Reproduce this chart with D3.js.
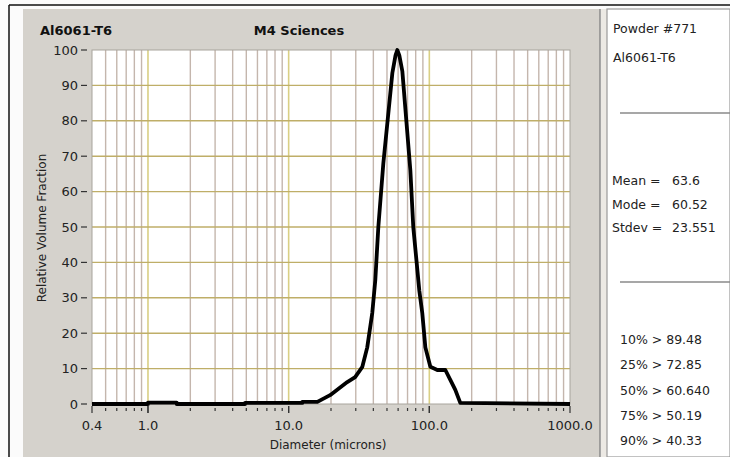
<!DOCTYPE html>
<html>
<head>
<meta charset="utf-8">
<script src="https://cdn.jsdelivr.net/npm/d3@7"></script>
<style>
  body { margin: 0; background: #fff; }
  text { font-family: "DejaVu Sans", sans-serif; }
</style>
</head>
<body>
<script>
// particle size distribution
const diameters = [0.4, 1.0, 1.0, 1.6, 1.6, 4.9, 4.9, 12.5, 12.5, 16.0, 19.7, 26.1, 29.7, 33.4, 36.2, 39.3, 41.3, 43.4, 47.1, 54.6, 57.5, 59.2, 61.2, 64.3, 73.3, 76.9, 84.9, 89.1, 93.7, 101.7, 114, 130, 141, 153, 166, 1000];
const volumeFraction = [0, 0, 0.4, 0.4, 0, 0, 0.3, 0.3, 0.6, 0.6, 2.5, 6.2, 7.6, 10.5, 16, 25.7, 35, 50, 68, 93.5, 98.5, 100, 98.5, 94, 66, 50, 32, 25.7, 16, 10.5, 9.6, 9.6, 6.8, 4, 0.3, 0];

const xMajor = [0.4, 1, 10, 100, 1000];
const xMajorLabels = ["0.4", "1.0", "10.0", "100.0", "1000.0"];
const yTicks = [0, 10, 20, 30, 40, 50, 60, 70, 80, 90, 100];

const headerLines = ["Powder #771", "Al6061-T6"];
const statNames = ["Mean =", "Mode =", "Stdev ="];
const statValues = ["63.6", "60.52", "23.551"];
const percentiles = ["10% > 89.48", "25% > 72.85", "50% > 60.640", "75% > 50.19", "90% > 40.33"];

const W = 730, H = 457;
const plot = { left: 92, top: 50, right: 570, bottom: 404 };

const svg = d3.select("body").append("svg")
    .attr("width", W)
    .attr("height", H);

// frame and panels
svg.append("rect").attr("x", 0).attr("y", 0).attr("width", W).attr("height", H).attr("fill", "#fbfbfb");
svg.append("line").attr("x1", 9).attr("y1", 5).attr("x2", W).attr("y2", 5).attr("stroke", "#111").attr("stroke-width", 1.5);
svg.append("line").attr("x1", 9).attr("y1", 5).attr("x2", 9).attr("y2", H).attr("stroke", "#111").attr("stroke-width", 1.5);
svg.append("rect").attr("x", 23).attr("y", 9).attr("width", 577).attr("height", H - 9).attr("fill", "#d5d2cc");
svg.append("line").attr("x1", 600).attr("y1", 9).attr("x2", 600).attr("y2", H).attr("stroke", "#8a8a8a").attr("stroke-width", 1.5);
svg.append("rect").attr("x", 601).attr("y", 9).attr("width", 6).attr("height", H - 9).attr("fill", "#ece9e4");
svg.append("rect").attr("x", 607).attr("y", 9).attr("width", W - 607).attr("height", H - 9)
    .attr("fill", "#fff").attr("stroke", "#9a9a9a").attr("stroke-width", 1.2);

// scales
const x = d3.scaleLog().domain([0.4, 1000]).range([plot.left, plot.right]);
const y = d3.scaleLinear().domain([0, 100]).range([plot.bottom, plot.top]);

svg.append("rect")
    .attr("x", plot.left).attr("y", plot.top)
    .attr("width", plot.right - plot.left).attr("height", plot.bottom - plot.top)
    .attr("fill", "#fff");

// vertical grid: every 1..9 multiple of each decade
const minorX = [];
[0.1, 1, 10, 100].forEach(dec => {
  for (let k = 1; k <= 9; k++) {
    const v = +(k * dec).toPrecision(3);
    if (v > 0.4 && v < 1000) minorX.push(v);
  }
});
const isDecade = v => [1, 10, 100].includes(v);

svg.append("g").selectAll("line")
    .data(minorX)
    .join("line")
    .attr("x1", d => x(d)).attr("x2", d => x(d))
    .attr("y1", plot.top).attr("y2", plot.bottom)
    .attr("stroke", d => isDecade(d) ? "#d9cf84" : "#c4b6ad")
    .attr("stroke-width", d => isDecade(d) ? 1.6 : 1.4);

// horizontal grid
svg.append("g").selectAll("line")
    .data(yTicks.filter(t => t > 0 && t < 100))
    .join("line")
    .attr("x1", plot.left).attr("x2", plot.right)
    .attr("y1", d => y(d)).attr("y2", d => y(d))
    .attr("stroke", "#bfae68")
    .attr("stroke-width", 1.4);

// plot border
svg.append("rect")
    .attr("x", plot.left).attr("y", plot.top)
    .attr("width", plot.right - plot.left).attr("height", plot.bottom - plot.top)
    .attr("fill", "none").attr("stroke", "#a8a49c").attr("stroke-width", 1);

// y axis ticks and labels
const yAxis = svg.append("g");
yAxis.selectAll("line")
    .data(yTicks)
    .join("line")
    .attr("x1", 81).attr("x2", 87)
    .attr("y1", d => y(d)).attr("y2", d => y(d))
    .attr("stroke", "#333").attr("stroke-width", 1.2);
yAxis.selectAll("text")
    .data(yTicks)
    .join("text")
    .attr("x", 78).attr("y", d => y(d))
    .attr("dy", "0.35em")
    .attr("text-anchor", "end")
    .attr("font-size", 13)
    .attr("fill", "#222")
    .text(d => d);

// x axis ticks and labels
const xAxis = svg.append("g");
xAxis.selectAll("line")
    .data(minorX.concat(xMajor))
    .join("line")
    .attr("x1", d => x(d)).attr("x2", d => x(d))
    .attr("y1", d => (xMajor.includes(d)) ? 406 : 408)
    .attr("y2", d => (xMajor.includes(d)) ? 413 : 411)
    .attr("stroke", "#333").attr("stroke-width", 1.2);
xAxis.selectAll("text")
    .data(xMajor)
    .join("text")
    .attr("x", d => x(d)).attr("y", 430)
    .attr("text-anchor", "middle")
    .attr("font-size", 13)
    .attr("fill", "#222")
    .text((d, i) => xMajorLabels[i]);

// titles
svg.append("text").attr("x", 40).attr("y", 35)
    .attr("font-size", 13).attr("font-weight", "bold").attr("fill", "#111")
    .text("Al6061-T6");
svg.append("text").attr("x", 299).attr("y", 35)
    .attr("text-anchor", "middle")
    .attr("font-size", 13).attr("font-weight", "bold").attr("fill", "#111")
    .text("M4 Sciences");
svg.append("text")
    .attr("transform", "translate(46,228) rotate(-90)")
    .attr("text-anchor", "middle")
    .attr("font-size", 12).attr("fill", "#222")
    .text("Relative Volume Fraction");
svg.append("text").attr("x", 328).attr("y", 449)
    .attr("text-anchor", "middle")
    .attr("font-size", 12).attr("fill", "#222")
    .text("Diameter (microns)");

// distribution curve
const line = d3.line()
    .x((d, i) => x(diameters[i]))
    .y(d => y(d));

svg.append("path")
    .datum(volumeFraction)
    .attr("d", line)
    .attr("fill", "none")
    .attr("stroke", "#000")
    .attr("stroke-width", 3.8)
    .attr("stroke-linejoin", "round");

// right side panel
const side = svg.append("g");
side.selectAll("text.hdr")
    .data(headerLines)
    .join("text")
    .attr("class", "hdr")
    .attr("x", 613).attr("y", (d, i) => 33 + i * 29)
    .attr("font-size", 12.5).attr("fill", "#222")
    .text(d => d);
side.append("line").attr("x1", 620).attr("x2", W).attr("y1", 113).attr("y2", 113)
    .attr("stroke", "#8a8a8a").attr("stroke-width", 1.5);
side.selectAll("text.nm")
    .data(statNames)
    .join("text")
    .attr("class", "nm")
    .attr("x", 612).attr("y", (d, i) => 185 + i * 23.5)
    .attr("font-size", 12.5).attr("fill", "#222")
    .text(d => d);
side.selectAll("text.val")
    .data(statValues)
    .join("text")
    .attr("class", "val")
    .attr("x", 672).attr("y", (d, i) => 185 + i * 23.5)
    .attr("font-size", 12.5).attr("fill", "#222")
    .text(d => d);
side.append("line").attr("x1", 620).attr("x2", W).attr("y1", 282).attr("y2", 282)
    .attr("stroke", "#8a8a8a").attr("stroke-width", 1.5);
side.selectAll("text.pct")
    .data(percentiles)
    .join("text")
    .attr("class", "pct")
    .attr("x", 620).attr("y", (d, i) => 344 + i * 25.3)
    .attr("font-size", 12.5).attr("fill", "#222")
    .text(d => d);
</script>
</body>
</html>
